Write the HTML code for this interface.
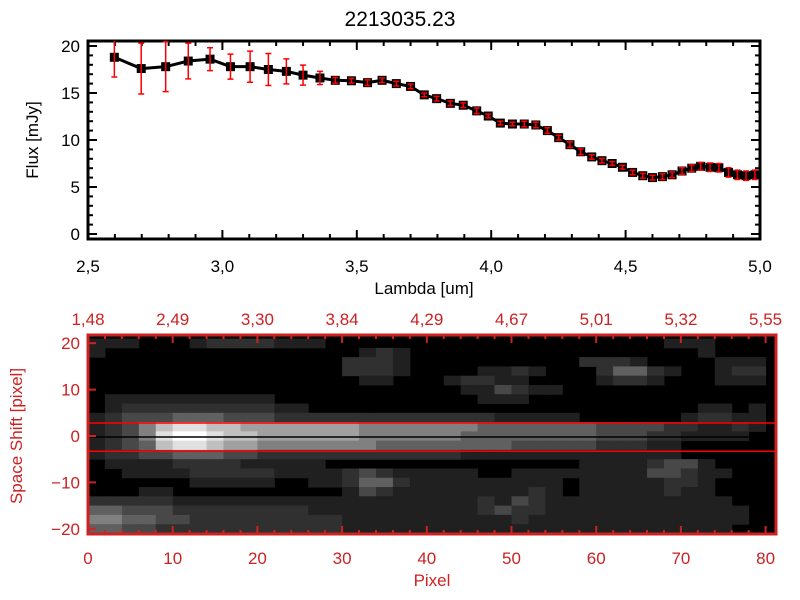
<!DOCTYPE html>
<html><head><meta charset="utf-8"><style>
body{margin:0;background:#fff;}
svg{display:block;}
text{font-family:"Liberation Sans",sans-serif;}
</style></head><body>
<svg id="chart" width="800" height="600" viewBox="0 0 800 600" xmlns="http://www.w3.org/2000/svg">
<rect width="800" height="600" fill="#fff"/>
<text x="400" y="26" font-size="21" text-anchor="middle" fill="#000">2213035.23</text>
<defs><clipPath id="topclip"><rect x="88" y="41" width="672" height="198"/></clipPath>
<clipPath id="imgclip"><rect x="88" y="335" width="688" height="199"/></clipPath></defs>
<g id="topPlot"></g>
<g id="botPlot"></g>
</svg>
<script>
const lambda=[2.598,2.698,2.789,2.873,2.954,3.03,3.103,3.171,3.238,3.30,3.363,3.42,3.48,3.54,3.594,3.647,3.70,3.751,3.797,3.848,3.896,3.946,3.989,4.034,4.079,4.123,4.166,4.209,4.251,4.293,4.333,4.374,4.412,4.45,4.488,4.526,4.564,4.60,4.637,4.673,4.71,4.746,4.779,4.814,4.847,4.883,4.916,4.948,4.981];
const flux=[18.8,17.6,17.8,18.4,18.6,17.8,17.8,17.5,17.3,16.9,16.6,16.35,16.3,16.1,16.35,16.0,15.7,14.8,14.4,13.9,13.7,13.1,12.55,11.8,11.7,11.7,11.6,11.0,10.25,9.5,8.75,8.2,7.8,7.5,7.1,6.55,6.2,6.0,6.1,6.3,6.7,7.0,7.2,7.1,7.05,6.55,6.3,6.2,6.3];
const fluxErr=[2.1,2.7,2.66,1.9,1.22,1.33,1.65,1.7,1.33,1.06,0.7,0.3,0.25,0.3,0.25,0.25,0.25,0.2,0.25,0.25,0.25,0.3,0.2,0.2,0.2,0.3,0.3,0.3,0.25,0.3,0.3,0.25,0.25,0.2,0.2,0.25,0.25,0.25,0.3,0.3,0.35,0.35,0.4,0.45,0.45,0.5,0.5,0.5,0.5];
const xTicks=["2.5","3.0","3.5","4.0","4.5","5.0"];
const yTicks=["0","5","10","15","20"];
const pixTicks=["0","10","20","30","40","50","60","70","80"];
const lamTopTicks=["1.48","2.49","3.30","3.84","4.29","4.67","5.01","5.32","5.55"];
const shiftTicks=["-20","-10","0","10","20"];
const imgRows=[
"1110001222211100000000000000000000111000",
"1000000000000000121000000000000000001000",
"0000000000000002221000000000022210000111",
"0000000000000002221000011210002442100122",
"0000000000000000110001221100001221000111",
"0000000000000000000000113211000000000000",
"0111111111100000000000011100000000000000",
"0122222222211000000000000000000000001101",
"1233344433322222222222221111100000012211",
"1235788776666666555555544444443333221121",
"1235899877666666555555444444443332211110",
"1234788766555555544444444333332221100000",
"1223344433222222222222111111111111100000",
"0111122221111100000000000000011112331000",
"0011112222211112321111100111111113321100",
"0000001111100112442111111111011111221000",
"0001100000000001321111111121011111211000",
"2222211111111111111111121321111111111100",
"4433322222222111111111123221111111111110",
"5544332222222221111111111211111111111110",
"4433222222222221111111111111111111111100",
"4433222222222221111111111111111111111100"];
const apLines=[2.8,-3.3];
const NS="http://www.w3.org/2000/svg";
function mk(tag,attrs,parent){const e=document.createElementNS(NS,tag);for(const k in attrs)e.setAttribute(k,attrs[k]);parent.appendChild(e);return e;}
// ---- top plot
const topG=document.getElementById('topPlot');
const X=v=>88+(v-2.5)*268.8, Y=v=>234-v*9.4;
const frameT=mk('rect',{x:88,y:41,width:672,height:198,fill:'none',stroke:'#000','stroke-width':3},topG);


for(let i=0;i<=25;i++){const v=2.5+i*0.1,x=X(v),L=(i%5==0)?9:5;
 const t1=mk('line',{x1:x,y1:239,x2:x,y2:239-L,stroke:'#000','stroke-width':2},topG);
 
 const t2=mk('line',{x1:x,y1:41,x2:x,y2:41+L,stroke:'#000','stroke-width':2},topG);
 }
xTicks.forEach(s=>{const t=mk('text',{x:X(parseFloat(s)),y:272,'font-size':17,'text-anchor':'middle'},topG);t.textContent=s.replace('.',',');
 });
for(let i=0;i<=20;i++){const y=Y(i),L=(i%5==0)?9:5;
 const t1=mk('line',{x1:88,y1:y,x2:88+L,y2:y,stroke:'#000','stroke-width':2},topG);
 
 const t2=mk('line',{x1:760,y1:y,x2:760-L,y2:y,stroke:'#000','stroke-width':2},topG);
 }
yTicks.forEach(s=>{const t=mk('text',{x:80,y:Y(parseFloat(s))+6,'font-size':17,'text-anchor':'end'},topG);t.textContent=s;
 });
const xl=mk('text',{x:424,y:294,'font-size':17,'text-anchor':'middle'},topG);xl.textContent='Lambda [um]';

const yl=mk('text',{x:0,y:0,'font-size':17,'text-anchor':'middle',transform:'translate(38,140) rotate(-90)'},topG);yl.textContent='Flux [mJy]';

const gT=mk('g',{'clip-path':'url(#topclip)'},topG);
const fluxLine=mk('polyline',{points:lambda.map((l,i)=>X(l)+','+Y(flux[i])).join(' '),fill:'none',stroke:'#000','stroke-width':3},gT);

lambda.forEach((l,i)=>{const x=X(l),y=Y(flux[i]);
 const m=mk('rect',{x:x-4.5,y:y-4.5,width:9,height:9,fill:'#000'},gT);
 
 const y1=Y(flux[i]+fluxErr[i]),y2=Y(flux[i]-fluxErr[i]);
 const eb=mk('path',{d:`M${x},${y1}V${y2}M${x-3},${y1}H${x+3}M${x-3},${y2}H${x+3}`,stroke:'#f00','stroke-width':1.5,fill:'none'},gT);
 });
// ---- bottom image
const botG=document.getElementById('botPlot');
const PX=p=>88+p*8.47, SY=s=>436-s*4.64;
const grays=['#000','#202020','#303030','#484848','#606060','#808080','#a0a0a0','#c0c0c0','#e0e0e0','#ffffff'];
const ig=mk('g',{'clip-path':'url(#imgclip)'},botG);
mk('rect',{x:88,y:335,width:688,height:199,fill:'#000'},ig);
imgRows.forEach((row,r)=>{for(let c=0;c<row.length;c++){const v=+row[c];if(!v)continue;
 const p0=c*2,sTop=21-2*r;
 const cell=mk('rect',{x:PX(p0),y:SY(sTop),width:8.47*2+0.5,height:4.64*2+0.5,fill:grays[v]},ig);
 }});
apLines.forEach(s=>{const l=mk('line',{x1:88,x2:776,y1:SY(s),y2:SY(s),stroke:'#f00','stroke-width':1.5},ig);
 });
const cl=mk('line',{x1:88,x2:776,y1:SY(0)+1,y2:SY(0)+1,stroke:'#000','stroke-width':1.5},ig);

const red='#cc2222';
const bf=mk('rect',{x:88,y:335,width:688,height:199,fill:'none',stroke:red,'stroke-width':3},botG);

for(let p=0;p<=80;p+=2){const x=PX(p),L=(p%10==0)?8:4;
 const a=mk('line',{x1:x,y1:534,x2:x,y2:534-L,stroke:red,'stroke-width':2},botG);
 
 const b=mk('line',{x1:x,y1:335,x2:x,y2:335+L,stroke:red,'stroke-width':2},botG);
 }
for(let s=-20;s<=20;s+=10){const y=SY(s);
 const a=mk('line',{x1:88,y1:y,x2:96,y2:y,stroke:red,'stroke-width':2},botG);
 }
pixTicks.forEach(s=>{const t=mk('text',{x:PX(+s),y:564,'font-size':17,'text-anchor':'middle',fill:red},botG);t.textContent=s;
 });
lamTopTicks.forEach((s,i)=>{const t=mk('text',{x:PX(+pixTicks[i]),y:325,'font-size':17,'text-anchor':'middle',fill:red},botG);t.textContent=s.replace('.',',');
 });
shiftTicks.forEach(s=>{const t=mk('text',{x:80,y:SY(+s)+6,'font-size':17,'text-anchor':'end',fill:red},botG);t.textContent=s.replace('-','\u2212');
 });
const pxT=mk('text',{x:432,y:586,'font-size':17,'text-anchor':'middle',fill:red},botG);pxT.textContent='Pixel';

const syT=mk('text',{x:0,y:0,'font-size':17,'text-anchor':'middle',fill:red,transform:'translate(22,436) rotate(-90)'},botG);syT.textContent='Space Shift [pixel]';

</script>
</body></html>
